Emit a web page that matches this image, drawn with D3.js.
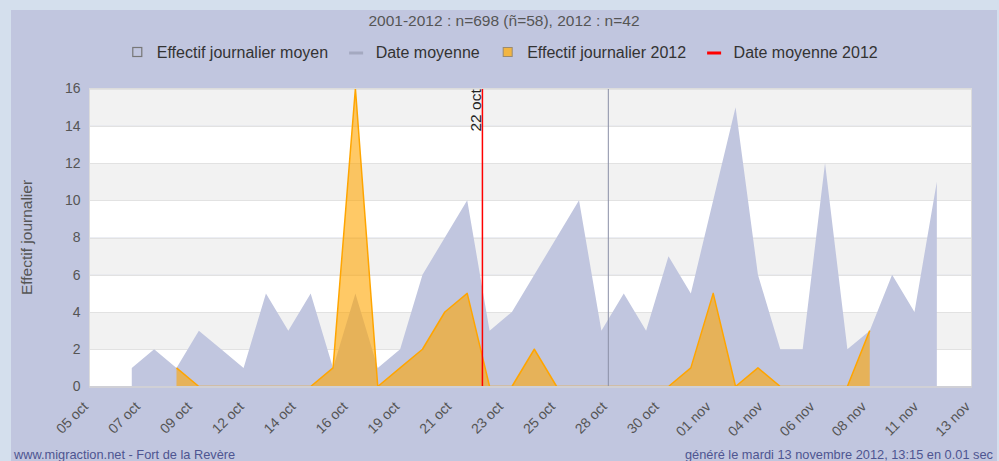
<!DOCTYPE html>
<html>
<head>
<meta charset="utf-8">
<script src="https://cdn.jsdelivr.net/npm/d3@7/dist/d3.min.js"></script>
<style>
  html, body { margin: 0; padding: 0; background: #d4dfed; }
  svg { display: block; font-family: "Liberation Sans", Arial, sans-serif; }
</style>
</head>
<body>
<svg id="chart" width="999" height="461"></svg>
<script>
// Days of the season, 05 oct -> 13 nov 2012 (one value per day in each series)
const days = [
  "2012-10-05","2012-10-06","2012-10-07","2012-10-08","2012-10-09","2012-10-10",
  "2012-10-11","2012-10-12","2012-10-13","2012-10-14","2012-10-15","2012-10-16",
  "2012-10-17","2012-10-18","2012-10-19","2012-10-20","2012-10-21","2012-10-22",
  "2012-10-23","2012-10-24","2012-10-25","2012-10-26","2012-10-27","2012-10-28",
  "2012-10-29","2012-10-30","2012-10-31","2012-11-01","2012-11-02","2012-11-03",
  "2012-11-04","2012-11-05","2012-11-06","2012-11-07","2012-11-08","2012-11-09",
  "2012-11-10","2012-11-11","2012-11-12","2012-11-13"
];

// Mean daily count 2001-2012
const meanDaily = [
  null, 1, 2, 1, 3, 2, 1, 5, 3, 5, 1, 5, 1, 2, 6, 8, 10, 3, 4, 6,
  8, 10, 3, 5, 3, 7, 5, 10, 15, 6, 2, 2, 12, 2, 3, 6, 4, 11, null, null
];

// Daily count 2012
const daily2012 = [
  null, null, null, 1, 0, 0, 0, 0, 0, 0, 1, 16, 0, 1, 2, 4, 5, 0, 0, 2,
  0, 0, 0, 0, 0, 0, 1, 5, 0, 1, 0, 0, 0, 0, 3, null, null, null, null, null
];

// Mean passage dates, in days from 05 oct
const meanDateAll = 22.31;
const meanDate2012 = 16.68;
const meanDate2012Label = "22 oct";

// Axis extent (days from 05 oct) and its evenly spaced tick labels
const axisStart = -0.89;
const axisEnd = 38.55;
const xTickLabels = [
  "05 oct","07 oct","09 oct","12 oct","14 oct","16 oct","19 oct","21 oct","23 oct",
  "25 oct","28 oct","30 oct","01 nov","04 nov","06 nov","08 nov","11 nov","13 nov"
];
const yTicks = [0, 2, 4, 6, 8, 10, 12, 14, 16];

const titleText = "2001-2012 : n=698 (ñ=58), 2012 : n=42";
const yTitle = "Effectif journalier";
const legendLabels = ["Effectif journalier moyen", "Date moyenne", "Effectif journalier 2012", "Date moyenne 2012"];
const footerLeft = "www.migraction.net - Fort de la Revère";
const footerRight = "généré le mardi 13 novembre 2012, 13:15 en 0.01 sec";

// ---------------------------------------------------------------
const W = 999, H = 461;
const plot = { left: 89.5, right: 971.5, top: 88.5, bottom: 386.5 };
const colors = {
  page: "#d4dfed", panel: "#c1c6df", band: "#f2f2f2", grid: "#e2e2e2",
  meanArea: "#c1c6df", orange: "#ffa500", meanLine: "#8a8fa6", red: "#ff0000",
  text: "#333333", soft: "#555555", footer: "#4e5591"
};

const svg = d3.select("#chart");
svg.append("rect").attr("width", W).attr("height", H).attr("fill", colors.page);
svg.append("rect").attr("x", 11).attr("y", 10).attr("width", 986).attr("height", H)
  .attr("fill", colors.panel);

const x = d3.scaleLinear().domain([axisStart, axisEnd]).range([plot.left, plot.right]);
const y = d3.scaleLinear().domain([0, 16]).range([plot.bottom, plot.top]);

const rows = days.map((d, i) => ({ i, day: d, mean: meanDaily[i], y2012: daily2012[i] }));

// alternating horizontal bands
const bands = yTicks.slice(0, -1).map((v, k) => ({ lo: v, hi: yTicks[k + 1], odd: k % 2 === 1 }));
svg.append("g").selectAll("rect").data(bands).join("rect")
  .attr("x", plot.left).attr("width", plot.right - plot.left)
  .attr("y", d => y(d.hi)).attr("height", d => y(d.lo) - y(d.hi))
  .attr("fill", d => d.odd ? colors.band : "#ffffff");

// grid lines
svg.append("g").selectAll("line").data(yTicks.slice(1)).join("line")
  .attr("x1", plot.left).attr("x2", plot.right)
  .attr("y1", d => Math.round(y(d)) + 0.5).attr("y2", d => Math.round(y(d)) + 0.5)
  .attr("stroke", colors.grid).attr("stroke-width", 1);

svg.append("clipPath").attr("id", "plotClip").append("rect")
  .attr("x", plot.left).attr("y", plot.top - 1)
  .attr("width", plot.right - plot.left).attr("height", plot.bottom - plot.top + 1);

const g = svg.append("g").attr("clip-path", "url(#plotClip)");

const meanArea = d3.area().defined(d => d.mean != null)
  .x(d => x(d.i)).y0(y(0)).y1(d => y(d.mean));
g.append("path").datum(rows).attr("d", meanArea).attr("fill", colors.meanArea);

const area2012 = d3.area().defined(d => d.y2012 != null)
  .x(d => x(d.i)).y0(y(0)).y1(d => y(d.y2012));
const line2012 = d3.line().defined(d => d.y2012 != null)
  .x(d => x(d.i)).y(d => y(d.y2012));
g.append("path").datum(rows).attr("d", area2012)
  .attr("fill", colors.orange).attr("fill-opacity", 0.6);
g.append("path").datum(rows).attr("d", line2012)
  .attr("fill", "none").attr("stroke", colors.orange).attr("stroke-width", 1.5)
  .attr("stroke-linejoin", "round");

// mean date markers
g.append("line")
  .attr("x1", x(meanDateAll)).attr("x2", x(meanDateAll))
  .attr("y1", plot.top).attr("y2", plot.bottom)
  .attr("stroke", colors.meanLine).attr("stroke-width", 1);
g.append("line")
  .attr("x1", x(meanDate2012)).attr("x2", x(meanDate2012))
  .attr("y1", plot.top).attr("y2", plot.bottom)
  .attr("stroke", colors.red).attr("stroke-width", 1.5);
svg.append("text")
  .attr("transform", `translate(${x(meanDate2012) - 1.5},${plot.top + 43}) rotate(-90)`)
  .attr("font-size", 15.5).attr("fill", "#222").text(meanDate2012Label);

// plot frame and x axis line
svg.append("rect").attr("x", plot.left).attr("y", plot.top)
  .attr("width", plot.right - plot.left).attr("height", plot.bottom - plot.top)
  .attr("fill", "none").attr("stroke", "#dcdcdc").attr("stroke-width", 1);
svg.append("line").attr("x1", plot.left - 0.5).attr("x2", plot.right + 0.5)
  .attr("y1", plot.bottom + 0.5).attr("y2", plot.bottom + 0.5)
  .attr("stroke", "#d0d0d6").attr("stroke-width", 2);

// y axis
const yAxis = d3.axisLeft(y).tickValues(yTicks).tickSize(0).tickPadding(0);
const yg = svg.append("g").attr("transform", `translate(${plot.left - 9},0)`).call(yAxis);
yg.select(".domain").remove();
yg.selectAll("text").attr("font-size", 14).attr("fill", colors.soft)
  .attr("font-family", "Liberation Sans, Arial, sans-serif");

svg.append("text")
  .attr("transform", `translate(${32},${(plot.top + plot.bottom) / 2}) rotate(-90)`)
  .attr("text-anchor", "middle").attr("font-size", 15.5).attr("fill", colors.soft)
  .text(yTitle);

// x axis: evenly spaced ticks across the axis extent
const step = (axisEnd - axisStart) / (xTickLabels.length - 1);
const xTickVals = xTickLabels.map((_, k) => axisStart + k * step);
const xAxis = d3.axisBottom(x).tickValues(xTickVals)
  .tickFormat((d, k) => xTickLabels[k]).tickSize(0).tickPadding(0);
const xg = svg.append("g").attr("transform", `translate(0,${plot.bottom})`).call(xAxis);
xg.select(".domain").remove();
xg.selectAll("text")
  .attr("font-size", 14).attr("fill", colors.soft)
  .attr("font-family", "Liberation Sans, Arial, sans-serif")
  .attr("text-anchor", "end").attr("dy", 0).attr("y", 0)
  .attr("transform", "translate(-1,21) rotate(-45)");

// title
svg.append("text").attr("x", 504).attr("y", 26).attr("text-anchor", "middle")
  .attr("font-size", 15.5).attr("fill", colors.soft).text(titleText);

// legend
const legendY = 52;
const lg = svg.append("g");
const items = legendLabels.map((label, k) => ({ label, k }));
const symW = 14, symGap = 12.5, itemGap = 21;
let cursor = 0;
const itemG = lg.selectAll("g").data(items).join("g");
itemG.append("text").attr("font-size", 16).attr("fill", colors.text)
  .attr("x", symW + symGap).attr("y", legendY + 5.5).text(d => d.label);
itemG.each(function (d) {
  const w = this.querySelector("text").getComputedTextLength();
  d.offset = cursor;
  cursor += symW + symGap + w + itemGap;
});
const totalW = cursor - itemGap;
const startX = 504 - totalW / 2;
itemG.attr("transform", d => `translate(${startX + d.offset},0)`);
itemG.each(function (d) {
  const s = d3.select(this);
  if (d.k === 0) {
    s.append("rect").attr("x", 2.5).attr("y", legendY - 4.5).attr("width", 9).attr("height", 9)
      .attr("fill", "none").attr("stroke", "#777").attr("stroke-width", 1.2);
  } else if (d.k === 2) {
    s.append("rect").attr("x", 2.5).attr("y", legendY - 4.5).attr("width", 9).attr("height", 9)
      .attr("fill", "#f2b541").attr("stroke", "#9a8a70").attr("stroke-width", 1);
  } else {
    s.append("line").attr("x1", 0).attr("x2", symW).attr("y1", legendY + 1).attr("y2", legendY + 1)
      .attr("stroke", d.k === 1 ? "#a4a9c0" : colors.red).attr("stroke-width", 3);
  }
});

// footer
svg.append("text").attr("x", 14).attr("y", 459).attr("font-size", 12.8)
  .attr("fill", colors.footer).text(footerLeft);
svg.append("text").attr("x", 993).attr("y", 459).attr("text-anchor", "end").attr("font-size", 12.8)
  .attr("fill", colors.footer).text(footerRight);
</script>
</body>
</html>
